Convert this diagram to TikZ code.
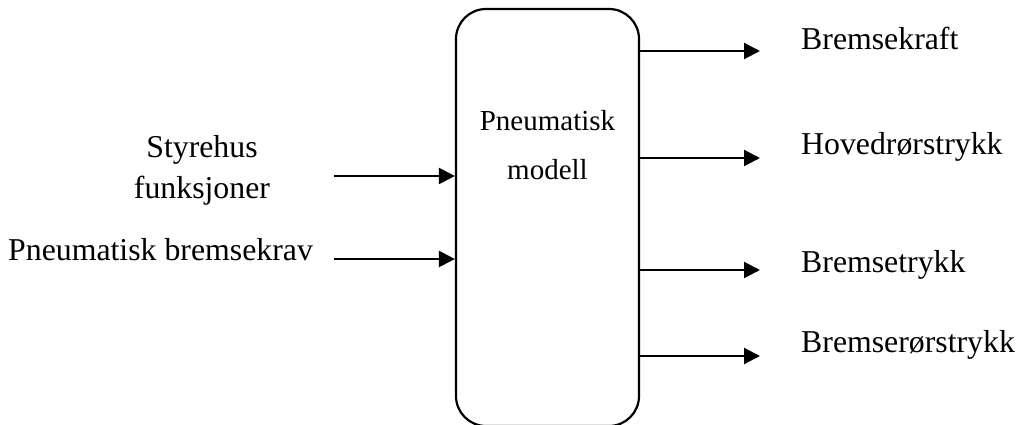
\documentclass[tikz,border=0pt]{standalone}
\usepackage{fontspec}
\setmainfont{Liberation Serif}
\usetikzlibrary{arrows.meta}
\begin{document}
\begin{tikzpicture}[x=1pt,y=-1pt,
  label text/.style={inner sep=0pt,font=\fontsize{31.8}{40}\selectfont},
  model box/.style={draw,line width=2.2pt,rounded corners=30pt,
    minimum width=183pt,minimum height=417pt,inner sep=0pt},
  flow/.style={line width=2.2pt,-{Triangle[length=16pt,width=16pt]}}]
  \useasboundingbox (0,0) rectangle (1018,425);

  % central block
  \node[model box] (model) at (547.5,217.5) {};
  \node[inner sep=0pt,anchor=base,align=center,
        font=\fontsize{29}{49}\selectfont] (title) at (547.5,179)
        {Pneumatisk\\modell};

  % inputs
  \node[label text,anchor=base,align=center] (styre) at (202,198)
        {Styrehus\\funksjoner};
  \node[label text,anchor=base west] (krav) at (8,260) {Pneumatisk bremsekrav};
  \coordinate (in1) at (334,176);
  \coordinate (in2) at (334,259);
  \draw[flow] (in1) -- (model.west |- in1);
  \draw[flow] (in2) -- (model.west |- in2);

  % outputs
  \coordinate (out1) at (760,51);
  \coordinate (out2) at (760,158);
  \coordinate (out3) at (760,270);
  \coordinate (out4) at (760,356);
  \draw[flow] (model.east |- out1) -- (out1);
  \draw[flow] (model.east |- out2) -- (out2);
  \draw[flow] (model.east |- out3) -- (out3);
  \draw[flow] (model.east |- out4) -- (out4);
  \node[label text,anchor=base west] (kraft) at (801,50) {Bremsekraft};
  \node[label text,anchor=base west] (hoved) at (801,155) {Hovedrørstrykk};
  \node[label text,anchor=base west] (trykk) at (801,272) {Bremsetrykk};
  \node[label text,anchor=base west] (ror) at (801,352) {Bremserørstrykk};
\end{tikzpicture}
\end{document}
